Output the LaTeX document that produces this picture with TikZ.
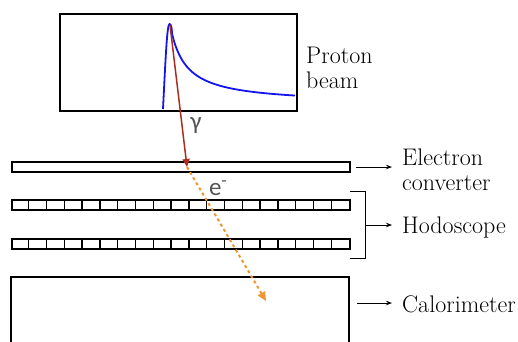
\documentclass[tikz,border=0pt]{standalone}
\usepackage{fontspec}
\newfontfamily\partfont{Carlito}
\usetikzlibrary{arrows.meta}
\definecolor{beamblue}{RGB}{20,20,240}
\definecolor{gammared}{RGB}{170,45,30}
\definecolor{eorange}{RGB}{240,150,50}
\definecolor{lblgray}{RGB}{85,85,85}
\begin{document}
\begin{tikzpicture}[x=1pt,y=-1pt,
  bar/.style={draw, line width=1.8pt, inner sep=0pt, minimum width=338pt, minimum height=10pt, anchor=north west},
  lbl/.style={font=\fontsize{24}{25}\selectfont, anchor=base west, inner sep=0pt},
  ptr/.style={-{Stealth[length=6pt,width=4.5pt]}, line width=0.8pt},
  part/.style={font=\partfont\fontsize{25}{28}\selectfont, text=lblgray, inner sep=0pt}]
\useasboundingbox (0,0) rectangle (518,341);
% proton beam plot
\node[draw, line width=1.8pt, inner sep=0pt, minimum width=237pt, minimum height=97pt, anchor=north west] (plotbox) at (59,13) {};
\draw[beamblue, line width=1.8pt, line join=round]
  (163,109) .. controls (165.5,60) and (167,24) .. (169.5,24)
  .. controls (171,24) and (171.5,27) .. (172,32)
  -- plot[domain=172:295, samples=80, smooth] (\x, {110 - (6 + 80/(1+(\x-170)/14.8))});
\coordinate (peak) at (170,25);
% detector parts
\node[bar] (conv) at (11,161) {};
\node[bar] (hodo1) at (11,199) {};
\node[bar] (hodo2) at (11,238) {};
\foreach \i in {1,...,18} {
  \draw[line width=1.4pt] (11+\i*338/19,199) -- ++(0,10);
  \draw[line width=1.4pt] (11+\i*338/19,238) -- ++(0,10);
}
\draw[line width=1.8pt] (11,345) |- (349,277) -- (349,345);
% particles
\coordinate (hit) at (187,167);
\coordinate (eend) at (266,301);
\draw[gammared, line width=1.5pt, -{Triangle[length=8pt,width=7pt]}] (peak) -- (hit);
\draw[eorange, line width=2pt, dash pattern=on 3pt off 3pt, -{Triangle[length=9pt,width=8pt]}] (hit) -- (eend);
\node[part] (gam) at (196,125) {γ};
\node[part] (elec) at (218,188) {e\raisebox{0.35em}{\fontsize{18}{18}\selectfont -}};
% labels
\node[lbl] (proton) at (306,63) {Proton};
\node[lbl] (beam) at (306,88) {beam};
\node[lbl] (lconv) at (402,165) {Electron};
\node[lbl] (lconv2) at (402,190) {converter};
\node[lbl] (lhodo) at (402,233) {Hodoscope};
\node[lbl] (lcalo) at (402,312) {Calorimeter};
\coordinate (ca) at (356,167);
\coordinate (cb) at (392,167);
\draw[ptr] (ca) -- (cb);
\coordinate (brk) at (365,225);
\coordinate (brkend) at (392,225);
\draw[line width=0.8pt] (350,191) -| (365,258) -- (350,258);
\draw[ptr] (brk) -- (brkend);
\coordinate (la) at (357,303);
\coordinate (lb) at (392,303);
\draw[ptr] (la) -- (lb);
\end{tikzpicture}
\end{document}
